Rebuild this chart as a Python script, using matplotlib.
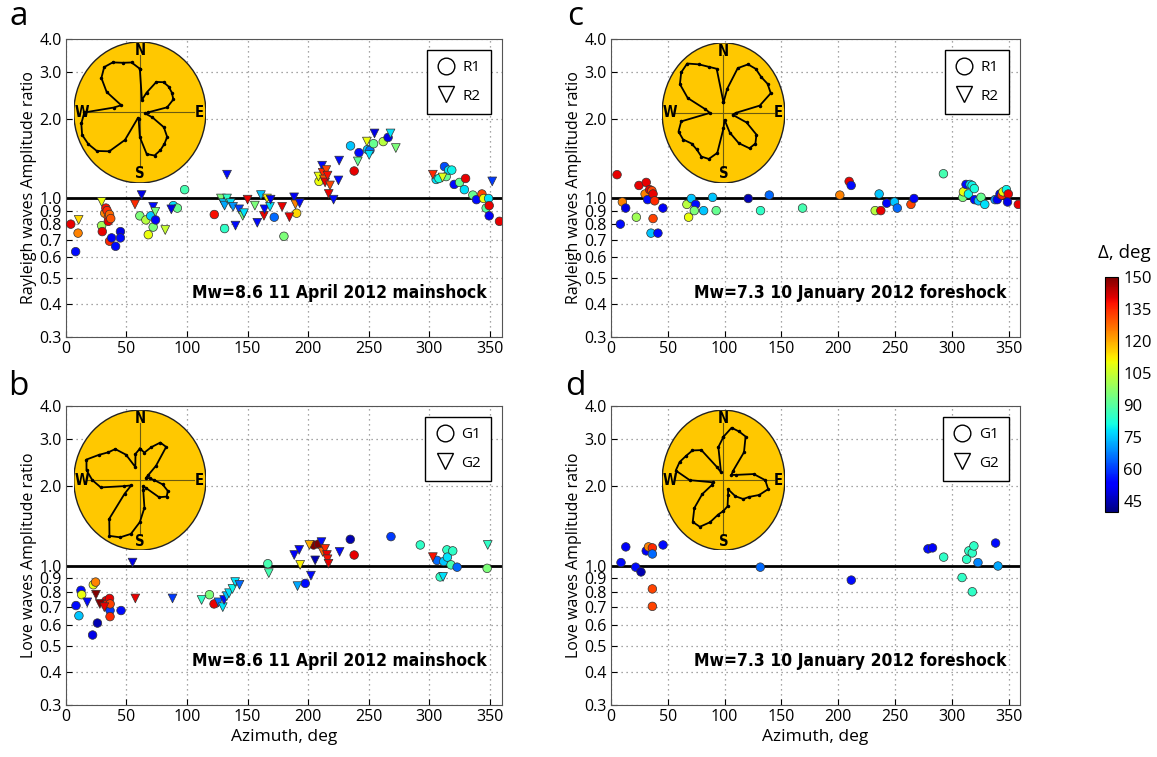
import numpy as np
import matplotlib
matplotlib.use("Agg")
import matplotlib.pyplot as plt
from matplotlib.colors import Normalize
from matplotlib.patches import Ellipse
from matplotlib.lines import Line2D
from matplotlib.ticker import FixedLocator, FormatStrFormatter, NullLocator

plt.rcParams['font.family'] = ['Open Sans', 'DejaVu Sans']

# ---------------- data ----------------
# panel a : Rayleigh, mainshock
az_a1 = [4, 10, 8, 29.5, 30, 32, 33, 34, 35, 35, 36, 37, 36, 37.7, 41, 45, 45, 61, 66, 68, 70, 72, 74,
         88.7, 92, 98, 122.5, 131, 172, 180, 190.5, 209, 235, 238, 242, 249, 251, 254, 262, 266,
         305.7, 308, 312.6, 314, 316, 318.6, 320.6, 325, 329, 330, 336, 339, 343.5, 345, 349, 347, 349.5, 349.5, 358]
ratio_a1 = [0.80, 0.74, 0.63, 0.79, 0.75, 0.88, 0.92, 0.90, 0.85, 0.82, 0.87, 0.84, 0.69, 0.71, 0.66, 0.75, 0.71,
            0.86, 0.83, 0.73, 0.86, 0.78, 0.83, 0.94, 0.92, 1.08, 0.87, 0.77, 0.85, 0.72, 0.88, 1.16,
            1.58, 1.27, 1.49, 1.53, 1.52, 1.61, 1.64, 1.70, 1.18, 1.19, 1.32, 1.21, 1.28, 1.28, 1.13, 1.15, 1.08, 1.19,
            1.03, 0.99, 1.04, 1.00, 1.00, 0.92, 0.94, 0.86, 0.82]
delta_a1 = [140, 125, 55, 100, 140, 125, 138, 135, 132, 140, 128, 130, 135, 52, 55, 50, 55, 95, 103, 110, 75, 95, 52,
            78, 92, 88, 138, 85, 65, 95, 115, 110, 75, 140, 55, 75, 65, 92, 103, 50,
            78, 82, 62, 92, 78, 80, 55, 92, 78, 140, 92, 55, 132, 110, 78, 90, 140, 52, 140]

az_a2 = [10.5, 29.5, 57, 62.5, 72, 73.8, 82, 87, 128, 130, 131, 133, 133, 136, 138, 140, 143, 146,
         147, 150, 156, 158, 161, 163.5, 164, 166, 168.5, 169, 178.5, 184.5, 188.4, 189.5, 193,
         208.5, 211.5, 212, 213, 214, 215, 216, 217, 218, 221, 225, 225.6, 241, 248.5, 250.4, 254.8, 268, 272.4,
         303, 311, 352]
ratio_a2 = [0.83, 0.97, 0.95, 1.03, 0.93, 0.89, 0.76, 0.91, 1.0, 0.96, 0.94, 1.23, 1.0, 0.96, 0.93, 0.79, 0.91, 0.86,
            0.88, 0.99, 0.94, 0.81, 1.03, 0.86, 0.91, 1.0, 0.93, 0.99, 0.93, 0.85, 1.01, 0.95, 0.96,
            1.21, 1.33, 1.25, 1.18, 1.15, 1.28, 1.22, 1.04, 1.12, 0.99, 1.17, 1.39, 1.38, 1.64, 1.46, 1.76, 1.76, 1.55,
            1.23, 1.2, 1.16]
delta_a2 = [115, 110, 135, 50, 55, 95, 105, 50, 95, 75, 72, 55, 85, 78, 70, 55, 60, 95,
            78, 140, 95, 55, 75, 140, 55, 112, 78, 52, 140, 140, 52, 125, 55,
            110, 55, 135, 130, 140, 132, 138, 140, 132, 55, 55, 55, 92, 110, 78, 50, 78, 95,
            135, 108, 60]

# panel b : Love, mainshock
az_b1 = [8.3, 10.7, 12.4, 13, 22, 22.6, 24.5, 26, 33, 34, 35, 36.4, 36.4, 36, 36.5, 45.5,
         118.5, 122.3, 166.7, 197.6, 204.5, 208.6, 234.8, 238, 268.4, 292.6,
         306.4, 312, 314.6, 315, 319.4, 318, 323, 309, 347.8]
ratio_b1 = [0.71, 0.65, 0.81, 0.78, 0.55, 0.85, 0.87, 0.61, 0.74, 0.72, 0.70, 0.68, 0.645, 0.755, 0.72, 0.68,
            0.78, 0.72, 1.02, 0.86, 1.20, 1.21, 1.26, 1.10, 1.29, 1.20,
            1.05, 1.04, 1.15, 1.08, 1.14, 1.01, 0.99, 0.91, 0.98]
delta_b1 = [55, 75, 55, 110, 50, 110, 125, 45, 140, 138, 135, 60, 135, 140, 132, 55,
            95, 140, 88, 55, 150, 150, 45, 140, 60, 85,
            65, 75, 85, 78, 85, 88, 65, 85, 95]

az_b2 = [17.6, 24.8, 28, 31.7, 55, 57.3, 88, 112, 126, 129.5, 130.6, 132.8, 134.7, 137.5, 139.7, 143.3,
         167.5, 188.5, 192.6, 193.4, 191.2, 202.3, 201, 205.8, 211, 212, 214, 215.5, 216, 216.8, 226,
         303, 311.4, 348.3]
ratio_b2 = [0.73, 0.78, 0.72, 0.70, 1.03, 0.755, 0.755, 0.745, 0.73, 0.70, 0.745, 0.77, 0.79, 0.82, 0.87, 0.85,
            0.94, 1.10, 1.15, 1.01, 0.84, 0.92, 1.20, 1.05, 1.23, 1.13, 1.16, 1.10, 1.06, 1.02, 1.13,
            1.08, 0.91, 1.20]
delta_b2 = [55, 150, 150, 140, 50, 140, 60, 85, 65, 78, 55, 75, 78, 80, 78, 65,
            88, 52, 52, 112, 72, 55, 120, 45, 55, 128, 135, 140, 138, 140, 55,
            138, 78, 85]

# panel c : Rayleigh, foreshock (R1 only)
az_c1 = [5.3, 10, 8.2, 12.9, 22.3, 24.6, 31, 30, 32.2, 34, 36, 37, 38.4, 37, 35.2, 41.3, 45.7,
         66.8, 68.3, 70.7, 74.5, 73.3, 81.5, 89.4, 92.6, 120.8, 131.6, 139.3, 168.6,
         201.4, 209.6, 211.4, 232.5, 237.5, 236, 242.7, 249.5, 252, 264, 266.7, 292.6,
         309.6, 310.2, 312.5, 314.6, 316, 317.8, 319.8, 320, 323.4, 325.7,
         329, 338, 340, 342.4, 344, 345, 348, 349.7, 349, 358.5]
ratio_c1 = [1.23, 0.97, 0.80, 0.92, 0.85, 1.12, 1.15, 1.04, 0.99, 1.08, 1.07, 1.04, 0.98, 0.84, 0.74, 0.74, 0.92,
            0.95, 0.85, 1.00, 0.95, 0.90, 0.90, 1.01, 0.90, 1.00, 0.90, 1.03, 0.92,
            1.03, 1.16, 1.12, 0.90, 0.90, 1.04, 0.96, 0.97, 0.92, 0.95, 1.00, 1.24,
            1.01, 1.06, 1.13, 1.04, 1.13, 1.12, 1.09, 0.99, 0.98, 1.01,
            0.95, 0.99, 0.99, 1.04, 1.03, 1.06, 1.08, 1.04, 0.97, 0.95]
delta_c1 = [140, 125, 55, 50, 100, 140, 140, 125, 55, 140, 132, 140, 135, 132, 75, 55, 52,
            103, 110, 75, 55, 95, 75, 75, 92, 45, 85, 65, 88,
            125, 140, 55, 103, 140, 75, 52, 75, 65, 132, 52, 88,
            95, 110, 55, 80, 78, 80, 82, 55, 75, 92,
            78, 70, 52, 52, 135, 110, 80, 140, 50, 140]

# panel d : Love, foreshock (G1 only)
az_d1 = [8.8, 13, 21.7, 26.4, 31, 33, 36.4, 36.4, 36.4, 36.4, 45.8, 131.4, 211.5, 279, 283,
         292.8, 309, 313, 315, 318, 319.4, 318, 323, 338.5, 340.6]
ratio_d1 = [1.03, 1.18, 0.99, 0.95, 1.14, 1.18, 1.17, 1.11, 0.82, 0.705, 1.20, 0.99, 0.885, 1.16, 1.17,
            1.08, 0.905, 1.06, 1.14, 1.12, 1.19, 0.80, 1.03, 1.22, 1.00]
delta_d1 = [55, 52, 55, 45, 52, 125, 135, 65, 132, 132, 55, 65, 55, 55, 52,
            85, 85, 85, 85, 85, 85, 85, 68, 55, 72]

# radiation patterns (relative radius vs azimuth, every 10 deg)
rose_az = list(range(0, 360, 10))
rose_a = [0.62, 0.18, 0.3, 0.5, 0.56, 0.57, 0.56, 0.54, 0.42, 0.12, 0.08, 0.2, 0.42, 0.54, 0.58, 0.62, 0.65, 0.6,
          0.35, 0.1, 0.08, 0.45, 0.72, 0.85, 0.9, 0.93, 0.9, 0.84, 0.4, 0.3, 0.58, 0.76, 0.84, 0.82, 0.75, 0.72]
rose_b = [0.45, 0.4, 0.5, 0.62, 0.62, 0.32, 0.15, 0.1, 0.15, 0.22, 0.35, 0.45, 0.47, 0.38, 0.15, 0.1, 0.15, 0.4,
          0.6, 0.78, 0.87, 0.92, 0.72, 0.3, 0.15, 0.25, 0.6, 0.72, 0.82, 0.86, 0.72, 0.62, 0.58, 0.42, 0.2, 0.38]
rose_c = [0.15, 0.35, 0.68, 0.8, 0.82, 0.8, 0.83, 0.82, 0.6, 0.2, 0.15, 0.4, 0.62, 0.68, 0.66, 0.5, 0.3, 0.1,
          0.22, 0.58, 0.7, 0.72, 0.68, 0.68, 0.76, 0.78, 0.7, 0.22, 0.3, 0.62, 0.82, 0.9, 0.92, 0.8, 0.7, 0.64]
rose_d = [0.62, 0.76, 0.74, 0.72, 0.52, 0.2, 0.15, 0.22, 0.5, 0.68, 0.74, 0.62, 0.48, 0.42, 0.3, 0.15, 0.22, 0.38,
          0.44, 0.5, 0.64, 0.77, 0.78, 0.62, 0.4, 0.2, 0.18, 0.55, 0.79, 0.76, 0.7, 0.66, 0.56, 0.22, 0.12, 0.48]

yticks = [0.3, 0.4, 0.5, 0.6, 0.7, 0.8, 0.9, 1.0, 2.0, 3.0, 4.0]
cbar_ticks = [45, 60, 75, 90, 105, 120, 135, 150]

# ---------------- figure ----------------
norm = Normalize(40, 150)
cmap = 'jet'
fig = plt.figure(figsize=(11.57, 7.57), dpi=100)

ax_a = fig.add_axes([0.0570, 0.5548, 0.3768, 0.3937])
ax_c = fig.add_axes([0.5281, 0.5548, 0.3535, 0.3937])
ax_b = fig.add_axes([0.0570, 0.0687, 0.3768, 0.3950])
ax_d = fig.add_axes([0.5281, 0.0687, 0.3535, 0.3950])

narrow = dict(family='DejaVu Sans', fontstretch='condensed', fontweight='bold')


def setup(ax, ylabel):
    ax.set_yscale('log')
    ax.set_xlim(0, 360)
    ax.set_ylim(0.3, 4.0)
    ax.yaxis.set_major_locator(FixedLocator(yticks))
    ax.yaxis.set_major_formatter(FormatStrFormatter('%.1f'))
    ax.yaxis.set_minor_locator(NullLocator())
    ax.set_xticks(range(0, 360, 50))
    ax.tick_params(direction='in', labelsize=11.5, length=4, pad=3)
    ax.grid(True, ls=(0, (1, 3)), color='#888888', lw=0.9)
    ax.axhline(1.0, color='k', lw=2, zorder=2)
    ax.set_ylabel(ylabel, fontsize=11.5, labelpad=2)
    for s in ax.spines.values():
        s.set_color('#555555')


def rose(ax, box, r):
    ins = ax.inset_axes(box)
    ins.set_xlim(-1, 1)
    ins.set_ylim(-1, 1)
    ins.axis('off')
    ins.add_patch(Ellipse((0, 0), 2, 2, facecolor='#FFC800', edgecolor='#222222', lw=1))
    ins.plot([-0.8, 0.82], [0, 0], color='#6b5a10', lw=0.8)
    ins.plot([0, 0], [-0.78, 0.82], color='#6b5a10', lw=0.8)
    kw = dict(ha='center', va='center', fontsize=10.5, **narrow)
    ins.text(0, 0.88, 'N', **kw)
    ins.text(0, -0.87, 'S', **kw)
    ins.text(-0.88, 0.0, 'W', **kw)
    ins.text(0.9, 0.0, 'E', **kw)
    th = np.radians(rose_az + [rose_az[0]])
    rr = np.array(r + [r[0]])
    ins.plot(rr * np.sin(th), rr * np.cos(th), color='k', lw=1.3, marker='.', ms=3)


def legend(ax, names, x1):
    h = [Line2D([], [], ls='none', marker='o', mfc='white', mec='k', ms=12, mew=1),
         Line2D([], [], ls='none', marker='v', mfc='white', mec='k', ms=12, mew=1)]
    lg = ax.legend(h, names, loc='upper right', bbox_to_anchor=(x1, 0.963), borderaxespad=0,
                   fancybox=False, fontsize=11, handletextpad=0.5, labelspacing=0.9, borderpad=0.65,
                   handlelength=1.2, framealpha=1)
    lg.get_frame().set_edgecolor('k')
    lg.get_frame().set_linewidth(1)


def pts(ax, az, ratio, delta, marker, s):
    ax.scatter(az, ratio, c=delta, cmap=cmap, norm=norm, marker=marker, s=s,
               edgecolors='#333333', linewidths=0.5, zorder=3)


setup(ax_a, 'Rayleigh waves Amplitude ratio')
setup(ax_c, 'Rayleigh waves Amplitude ratio')
setup(ax_b, 'Love waves Amplitude ratio')
setup(ax_d, 'Love waves Amplitude ratio')

pts(ax_a, az_a1, ratio_a1, delta_a1, 'o', 38)
pts(ax_a, az_a2, ratio_a2, delta_a2, 'v', 40)
pts(ax_b, az_b1, ratio_b1, delta_b1, 'o', 38)
pts(ax_b, az_b2, ratio_b2, delta_b2, 'v', 40)
pts(ax_c, az_c1, ratio_c1, delta_c1, 'o', 38)
pts(ax_d, az_d1, ratio_d1, delta_d1, 'o', 38)

rose(ax_a, [0.018, 0.517, 0.303, 0.473], rose_a)
rose(ax_b, [0.018, 0.518, 0.303, 0.468], rose_b)
rose(ax_c, [0.125, 0.517, 0.300, 0.470], rose_c)
rose(ax_d, [0.125, 0.518, 0.300, 0.468], rose_d)

legend(ax_a, ['R1', 'R2'], 0.975)
legend(ax_c, ['R1', 'R2'], 0.973)
legend(ax_b, ['G1', 'G2'], 0.975)
legend(ax_d, ['G1', 'G2'], 0.973)

tkw = dict(ha='right', va='center', fontsize=12.5, **narrow)
ax_a.text(0.966, 0.148, 'Mw=8.6 11 April 2012 mainshock', transform=ax_a.transAxes, **tkw)
ax_b.text(0.966, 0.148, 'Mw=8.6 11 April 2012 mainshock', transform=ax_b.transAxes, **tkw)
ax_c.text(0.968, 0.148, 'Mw=7.3 10 January 2012 foreshock', transform=ax_c.transAxes, **tkw)
ax_d.text(0.968, 0.148, 'Mw=7.3 10 January 2012 foreshock', transform=ax_d.transAxes, **tkw)

ax_b.set_xlabel('Azimuth, deg', fontsize=12.5, labelpad=3)
ax_d.set_xlabel('Azimuth, deg', fontsize=12.5, labelpad=3)

for lab, x, y in [('a', 0.016, 0.978), ('c', 0.497, 0.978), ('b', 0.016, 0.49), ('d', 0.497, 0.49)]:
    fig.text(x, y, lab, fontsize=24, ha='center', va='center')

# colorbar
cax = fig.add_axes([0.955, 0.3236, 0.0112, 0.310])
cb = fig.colorbar(plt.cm.ScalarMappable(norm=norm, cmap=cmap), cax=cax, ticks=cbar_ticks)
cb.ax.tick_params(labelsize=12, length=0, pad=4)
cb.outline.set_linewidth(0.8)
fig.text(0.972, 0.666, '\u0394, deg', fontsize=13.5, ha='center', va='center')

fig.savefig('out.png', dpi=100)
